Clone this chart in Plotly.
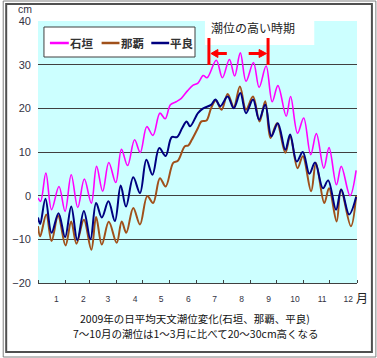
import plotly.graph_objects as go

# ---------------- data ----------------
month_labels = ["1", "2", "3", "4", "5", "6", "7", "8", "9", "10", "11", "12"]
month_start_days = [0, 31, 59, 90, 120, 151, 181, 212, 243, 273, 304, 334, 365]
y_ticks = [-20, -10, 0, 10, 20, 30, 40]

series_names = ["石垣", "那覇", "平良"]

ishigaki_day = [0, 3, 9, 15.5, 24, 31, 38, 45.5, 53, 61, 67, 74, 81, 89, 95.5, 102.5,
                110.5, 117, 124.5, 131.5, 139.5, 145.5, 151.5, 158, 164, 171, 177.5, 183,
                189, 193.5, 204, 211, 219, 225, 231.5, 238, 246.5, 253, 261, 268, 274.5,
                284, 289, 297, 304, 312, 318.5, 327, 333, 341.5, 347, 357, 364]
ishigaki_cm = [-0.5, -1.3, 5.2, -3.2, 2.1, -3.6, 4.8, -2.7, 3.8, -1.7, 6.7, 1.0, 7.6, 3.0,
               10.6, 6.9, 12.8, 9.9, 15.8, 13.8, 18.9, 17.6, 20.8, 21.5, 22.3, 24.0, 25.3,
               25.8, 27.5, 27.0, 31.0, 27.0, 31.2, 27.4, 32.7, 26.2, 30.5, 24.8, 29.7, 21.5,
               25.2, 18.2, 22.7, 14.3, 17.8, 9.4, 14.2, 6.3, 11.0, 2.5, 6.7, 0.0, 5.8]

naha_day = [0, 2.5, 9.5, 15.5, 23, 31.5, 38, 44, 52.5, 61, 66.5, 73, 81, 90, 95.8, 101,
            109, 116.7, 125, 131.7, 139.5, 146, 154.7, 160, 168, 172, 176, 183, 187, 192.7,
            198, 203.5, 210, 217, 224, 231, 238, 246, 253.5, 260, 266, 273.5, 283, 288.5,
            297, 303, 312.5, 318, 327.6, 333, 341.7, 346.6, 358, 364]
naha_cm = [-7.0, -9.3, -4.3, -10.4, -4.6, -11.4, -5.9, -11.0, -5.5, -12.4, -4.9, -11.2,
           -6.0, -10.8, -5.9, -8.5, -2.8, -6.6, -0.1, -1.7, 4.0, 2.1, 7.5, 8.0, 11.3, 11.5,
           12.8, 15.5, 17.0, 17.2, 20.0, 21.8, 19.7, 23.3, 20.3, 25.0, 19.7, 22.7, 17.0,
           21.6, 13.2, 16.6, 9.8, 13.6, 6.3, 9.0, 1.0, 7.5, -1.7, 1.7, -5.9, 1.4, -7.0, -0.1]

hirara_day = [0, 2.5, 8.5, 15.5, 23.5, 31, 38, 45, 52.5, 60, 66.5, 73, 80.6, 88, 94.6,
              100.7, 109, 116.7, 124, 131, 138.7, 146, 153, 159, 165, 170, 174, 183, 189,
              198, 203, 208.6, 217, 224, 231.5, 238, 246, 253, 260, 267, 274.4, 283, 288.5,
              296, 303, 310.5, 317, 326, 332, 341, 347, 356, 364]
hirara_cm = [-5.0, -6.5, -0.7, -8.5, -4.0, -9.5, -2.5, -10.2, -3.5, -10.0, -1.7, -5.0,
             -1.3, -5.8, 2.3, -2.5, 4.2, 0.6, 8.2, 4.8, 10.9, 9.1, 13.4, 13.4, 15.5, 17.0,
             15.9, 18.9, 20.0, 20.8, 22.0, 20.5, 22.7, 20.0, 23.5, 18.9, 22.0, 17.4, 20.8,
             13.6, 16.6, 10.5, 14.0, 7.8, 10.0, 5.0, 7.6, 1.7, 3.5, -3.2, 1.4, -4.3, -0.3]

title_lines = ["2009年の日平均天文潮位変化(石垣、那覇、平良)",
               "7～10月の潮位は1～3月に比べて20～30cm高くなる"]
high_period_label = "潮位の高い時期"

# ---------------- layout geometry ----------------
W, H = 377, 358
L, R, T, B = 36, 357, 21, 283

def fx(p):
    return (p - L) / (R - L)

def fy(p):
    return (B - p) / (B - T)

colors = ["#FF00FF", "#A0501A", "#000080"]
widths = [1.6, 2.0, 2.0]
CJK = "Noto Sans CJK JP"
NUM = "Liberation Sans, Arial, sans-serif"

fig = go.Figure()
for name, xs, ys, c, w in zip(series_names,
                              [ishigaki_day, naha_day, hirara_day],
                              [ishigaki_cm, naha_cm, hirara_cm], colors, widths):
    fig.add_trace(go.Scatter(x=xs, y=ys, mode="lines", name=name,
                             line=dict(color=c, width=w, shape="spline", smoothing=1.0),
                             showlegend=False, hoverinfo="skip"))

label_days = [d + 21 for d in month_start_days[:-1]]

fig.update_xaxes(range=[0, 365], showgrid=False, zeroline=False,
                 showline=True, linecolor="#404040", linewidth=1,
                 tickmode="array", tickvals=label_days, ticktext=month_labels,
                 ticks="", ticklabelstandoff=8,
                 tickfont=dict(family=NUM, size=8.5, color="#333344"),
                 minor=dict(tickmode="array", tickvals=month_start_days,
                            ticks="inside", ticklen=3, tickcolor="#404040",
                            showgrid=False))
fig.update_yaxes(range=[-20, 40], tickmode="array", tickvals=y_ticks,
                 showgrid=True, gridcolor="#404040", gridwidth=1,
                 zeroline=False, showline=False, ticks="", ticklabelstandoff=6,
                 tickfont=dict(family=NUM, size=11, color="#333344"))

shapes = []
# frames
shapes.append(dict(type="rect", xref="paper", yref="paper",
                   x0=fx(1), x1=fx(376), y0=fy(1), y1=fy(357),
                   line=dict(color="#808080", width=1), layer="above"))
shapes.append(dict(type="rect", xref="paper", yref="paper",
                   x0=fx(4), x1=fx(372), y0=fy(4), y1=fy(352),
                   line=dict(color="#505050", width=2), layer="above"))
# white label box
shapes.append(dict(type="rect", xref="paper", yref="paper",
                   x0=fx(204), x1=fx(314), y0=fy(45), y1=fy(19),
                   fillcolor="white", line=dict(width=0), layer="above"))
# legend box
shapes.append(dict(type="rect", xref="paper", yref="paper",
                   x0=fx(42), x1=fx(194), y0=fy(57), y1=fy(27),
                   fillcolor="white", line=dict(color="#404040", width=1), layer="above"))
legend_line_x = [(48, 67), (100, 118), (150, 168)]
legend_text_x = [80, 131, 181]
for (a, b), c in zip(legend_line_x, colors):
    shapes.append(dict(type="line", xref="paper", yref="paper",
                       x0=fx(a), x1=fx(b), y0=fy(43), y1=fy(43),
                       line=dict(color=c, width=2.5), layer="above"))
# red bracket
red = "#FF0000"
for xv in (208, 267.5):
    shapes.append(dict(type="line", xref="paper", yref="paper",
                       x0=fx(xv), x1=fx(xv), y0=fy(38), y1=fy(65),
                       line=dict(color=red, width=3), layer="above"))
shapes.append(dict(type="line", xref="paper", yref="paper",
                   x0=fx(215), x1=fx(226), y0=fy(53.5), y1=fy(53.5),
                   line=dict(color=red, width=3), layer="above"))
shapes.append(dict(type="line", xref="paper", yref="paper",
                   x0=fx(248), x1=fx(260), y0=fy(53.5), y1=fy(53.5),
                   line=dict(color=red, width=3), layer="above"))
shapes.append(dict(type="path", xref="paper", yref="paper",
                   path=f"M{fx(210)},{fy(53.5)} L{fx(217)},{fy(49.5)} L{fx(217)},{fy(57.5)} Z",
                   fillcolor=red, line=dict(color=red, width=1), layer="above"))
shapes.append(dict(type="path", xref="paper", yref="paper",
                   path=f"M{fx(266)},{fy(53.5)} L{fx(258.5)},{fy(49.5)} L{fx(258.5)},{fy(57.5)} Z",
                   fillcolor=red, line=dict(color=red, width=1), layer="above"))

annotations = []
def ann(text, x, y, size, family=CJK, color="#222222", xanchor="center"):
    annotations.append(dict(text=text, xref="paper", yref="paper", x=fx(x), y=fy(y),
                            showarrow=False, xanchor=xanchor, yanchor="middle",
                            font=dict(family=family, size=size, color=color)))

ann("cm", 23, 9, 10.5, family=NUM, color="#333344")
ann("月", 362, 297, 12, color="#222222")
ann(high_period_label, 252, 27, 12, color="#222222")
for name, xt in zip(series_names, legend_text_x):
    ann("<b>" + name + "</b>", xt, 43, 11.5, color="#333333")
ann(title_lines[0], 194, 318, 10.5, color="#111111")
ann(title_lines[1], 195, 333.5, 10.5, color="#111111")

fig.update_layout(width=W, height=H, margin=dict(l=L, r=W - R, t=T, b=H - B),
                  plot_bgcolor="#CCFFFF", paper_bgcolor="white",
                  shapes=shapes, annotations=annotations, showlegend=False)

fig.write_html("out.html", config={"displayModeBar": False},
               post_script="document.body.style.margin='0px';")
